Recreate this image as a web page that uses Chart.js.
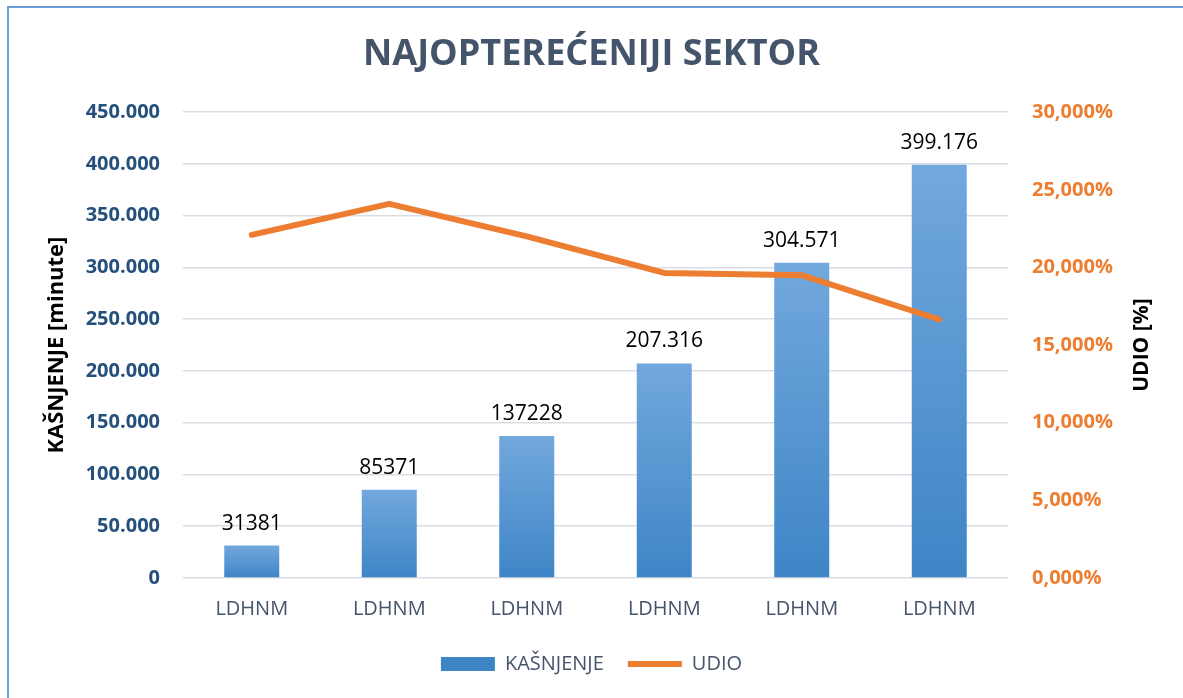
<!DOCTYPE html>
<html>
<head>
<meta charset="utf-8">
<script src="https://cdn.jsdelivr.net/npm/chart.js@4.4.1/dist/chart.umd.min.js"></script>
<style>
  html, body { margin: 0; padding: 0; background: #fff; overflow: hidden; }
  #wrap { position: absolute; left: 0; top: 0; width: 1183px; height: 698px; }
  #frame { position: absolute; left: 7px; top: 6px; width: 1300px; height: 900px;
           border-left: 2px solid #6a9fd6; border-top: 2px solid #6a9fd6; box-sizing: border-box; pointer-events: none; }
</style>
</head>
<body>
<div id="wrap"><canvas id="chart" width="1183" height="698"></canvas></div>
<div id="frame"></div>
<script>
const categories = ['LDHNM', 'LDHNM', 'LDHNM', 'LDHNM', 'LDHNM', 'LDHNM'];
const kasnjenje = [31381, 85371, 137228, 207316, 304571, 399176];
const kasnjenjeLabels = ['31381', '85371', '137228', '207.316', '304.571', '399.176'];
const udio = [22.1, 24.1, 22.0, 19.65, 19.5, 16.65];

Chart.defaults.font.family = '"Open Sans", sans-serif';

function thousands(v) {
    return v === 0 ? '0' : String(v).replace(/\B(?=(\d{3})+(?!\d))/g, '.');
}

function barFill(context) {
    const chart = context.chart;
    const { ctx, chartArea, scales } = chart;
    if (!chartArea || context.raw === undefined) return '#5596d3';
    const top = scales.y.getPixelForValue(context.raw);
    const bottom = scales.y.getPixelForValue(0);
    const g = ctx.createLinearGradient(0, top, 0, bottom);
    g.addColorStop(0, '#72a8dd');
    g.addColorStop(1, '#3e85c6');
    return g;
}

const barLabels = {
    id: 'barLabels',
    afterDatasetsDraw(chart) {
        const ctx = chart.ctx;
        const meta = chart.getDatasetMeta(0);
        ctx.save();
        ctx.font = '21px "Open Sans"';
        ctx.fillStyle = '#000';
        ctx.textAlign = 'center';
        ctx.textBaseline = 'alphabetic';
        meta.data.forEach((bar, i) => ctx.fillText(kasnjenjeLabels[i], bar.x, bar.y - 16));
        ctx.restore();
    }
};

// right axis title reads bottom-to-top like the left one
const rightTitle = {
    id: 'rightTitle',
    afterDraw(chart) {
        const ctx = chart.ctx;
        const a = chart.chartArea;
        ctx.save();
        ctx.translate(1142, (a.top + a.bottom) / 2);
        ctx.rotate(-Math.PI / 2);
        ctx.font = 'bold 21px "Open Sans"';
        ctx.fillStyle = '#000';
        ctx.textAlign = 'center';
        ctx.textBaseline = 'middle';
        ctx.fillText('UDIO [%]', 0, 0);
        ctx.restore();
    }
};

new Chart(document.getElementById('chart'), {
    data: {
        labels: categories,
        datasets: [
            {
                type: 'bar',
                label: 'KAŠNJENJE',
                data: kasnjenje,
                yAxisID: 'y',
                backgroundColor: barFill,
                borderWidth: 0,
                barPercentage: 0.4,
                categoryPercentage: 1,
                pointStyle: 'rect',
                order: 2
            },
            {
                type: 'line',
                label: 'UDIO',
                data: udio,
                yAxisID: 'y1',
                borderColor: '#ed7d31',
                backgroundColor: '#ed7d31',
                borderWidth: 6,
                pointRadius: 0,
                pointStyle: 'line',
                tension: 0,
                borderCapStyle: 'round',
                borderJoinStyle: 'round',
                order: 1
            }
        ]
    },
    options: {
        responsive: false,
        animation: false,
        layout: { padding: { left: 0, right: 0, top: 0, bottom: 14 } },
        plugins: {
            title: {
                display: true,
                text: 'NAJOPTEREĆENIJI SEKTOR',
                color: '#44546a',
                font: { size: 36, weight: 'bold' },
                padding: { top: 33, bottom: 36 }
            },
            legend: {
                position: 'bottom',
                labels: {
                    usePointStyle: true,
                    pointStyleWidth: 54,
                    boxHeight: 14,
                    padding: 24,
                    color: '#44546a',
                    font: { size: 20 },
                    sort: (a, b) => a.datasetIndex - b.datasetIndex
                }
            },
            tooltip: { enabled: false }
        },
        scales: {
            x: {
                grid: { display: false },
                border: { display: false },
                ticks: { color: '#44546a', font: { size: 20 }, padding: 11 },
                afterFit(scale) { scale.height = 52; }
            },
            y: {
                position: 'left',
                min: 0,
                max: 450000,
                ticks: {
                    stepSize: 50000,
                    color: '#25507c',
                    font: { size: 20, weight: 'bold' },
                    padding: 23,
                    callback: (v) => thousands(v)
                },
                grid: { color: '#d9dde3', lineWidth: 1.5, drawTicks: false },
                border: { display: false },
                title: {
                    display: true,
                    text: 'KAŠNJENJE [minute]',
                    color: '#000',
                    font: { size: 22, weight: 'bold' },
                    padding: { top: 44, bottom: 0 }
                },
                afterFit(scale) { scale.width = 183; }
            },
            y1: {
                position: 'right',
                min: 0,
                max: 30,
                ticks: {
                    stepSize: 5,
                    color: '#ed7d31',
                    font: { size: 20, weight: 'bold' },
                    padding: 24,
                    callback: (v) => v.toFixed(3).replace('.', ',') + '%'
                },
                grid: { display: false, drawTicks: false },
                border: { display: false },
                afterFit(scale) { scale.width = 175; }
            }
        }
    },
    plugins: [barLabels, rightTitle]
});
</script>
</body>
</html>
